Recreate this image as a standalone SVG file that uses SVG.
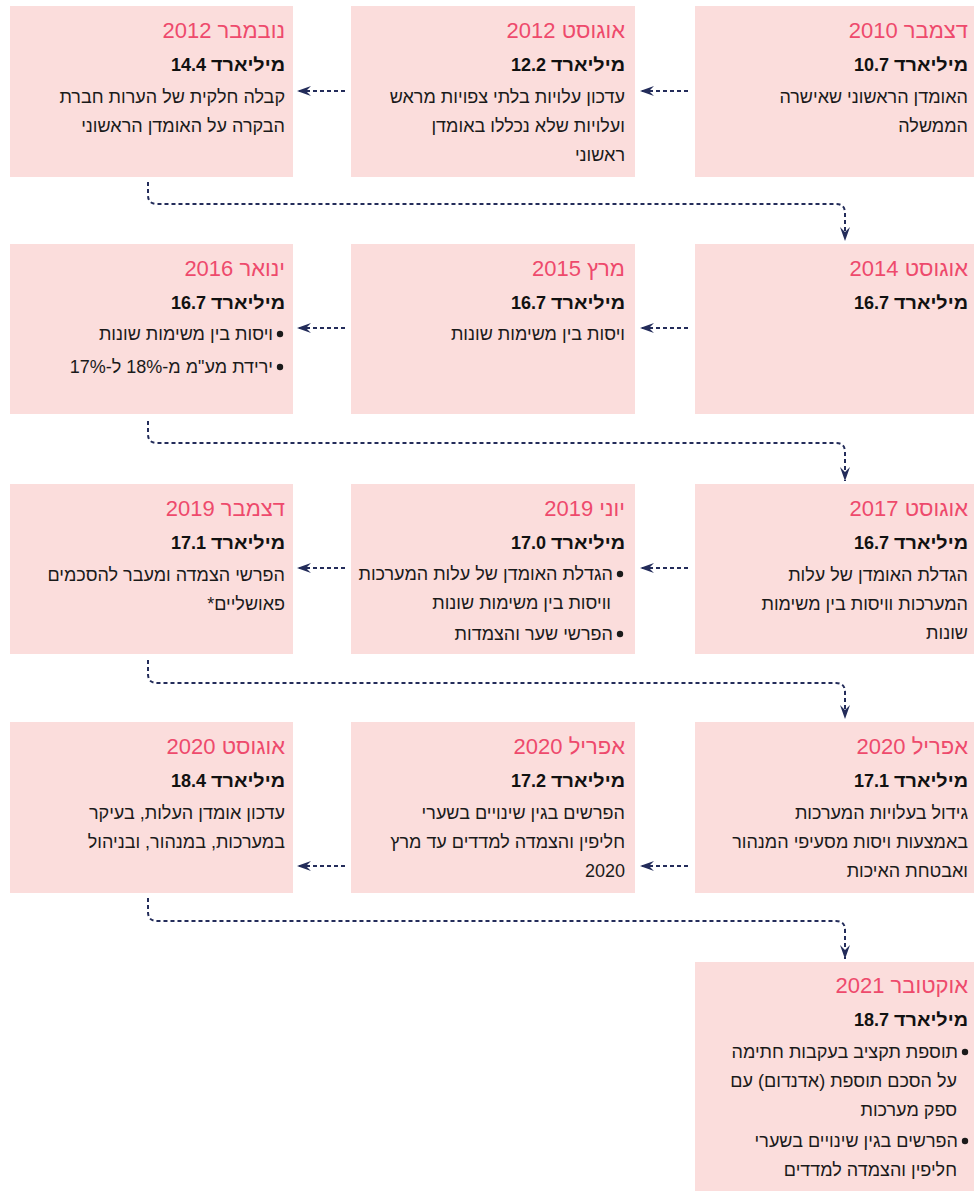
<svg xmlns="http://www.w3.org/2000/svg" width="974" height="1191" viewBox="0 0 974 1191">
<style>
.bg{fill:#ffffff}
.box{fill:#fbdddc}
.t{font-family:"Liberation Sans","DejaVu Sans",sans-serif;font-size:22px;fill:#ee4a6c;direction:rtl;text-anchor:start}
.b{font-family:"Liberation Sans","DejaVu Sans",sans-serif;font-size:18px;font-weight:bold;fill:#111111;text-anchor:end}
.p{font-family:"Liberation Sans","DejaVu Sans",sans-serif;font-size:18px;fill:#1a1a1a;direction:rtl;text-anchor:start}
.dot{fill:#1a1a1a}
.c{fill:none;stroke:#232c5a;stroke-width:2;stroke-dasharray:4 3;marker-end:url(#ah)}
</style>
<defs>
<marker id="ah" viewBox="0 0 14 10" refX="14" refY="5" markerWidth="14" markerHeight="10" markerUnits="userSpaceOnUse" orient="auto">
<path d="M0,0 L14,5 L0,10 L5,5 Z" fill="#232c5a"/>
</marker>
</defs>
<rect class="bg" x="0" y="0" width="974" height="1191"/>

<g id="connectors">
<path class="c" d="M688,91 H640"/>
<path class="c" d="M345,91 H297"/>
<path class="c" d="M148,182 V195 Q148,204 157,204 H836 Q845,204 845,213 V241"/>
<path class="c" d="M688,328 H640"/>
<path class="c" d="M345,328 H297"/>
<path class="c" d="M148,421 V434 Q148,443 157,443 H836 Q845,443 845,452 V481"/>
<path class="c" d="M688,568 H640"/>
<path class="c" d="M345,568 H297"/>
<path class="c" d="M148,660 V674 Q148,683 157,683 H836 Q845,683 845,692 V719"/>
<path class="c" d="M688,866 H640"/>
<path class="c" d="M345,866 H297"/>
<path class="c" d="M148,898 V912 Q148,921 157,921 H836 Q845,921 845,930 V959"/>
</g>

<g id="dec2010">
<rect class="box" x="695" y="6" width="279" height="171"/>
<text class="t" x="968" y="38">דצמבר 2010</text>
<text class="b" x="968" y="71" textLength="74" lengthAdjust="spacingAndGlyphs">מיליארד</text>
<text class="b" x="889" y="71">10.7</text>
<text class="p" x="968" y="103">האומדן הראשוני שאישרה</text>
<text class="p" x="968" y="132">הממשלה</text>
</g>

<g id="aug2012">
<rect class="box" x="351" y="6" width="284" height="171"/>
<text class="t" x="625" y="38">אוגוסט 2012</text>
<text class="b" x="625" y="71" textLength="74" lengthAdjust="spacingAndGlyphs">מיליארד</text>
<text class="b" x="546" y="71">12.2</text>
<text class="p" x="625" y="103">עדכון עלויות בלתי צפויות מראש</text>
<text class="p" x="625" y="132">ועלויות שלא נכללו באומדן</text>
<text class="p" x="625" y="161">ראשוני</text>
</g>

<g id="nov2012">
<rect class="box" x="10" y="6" width="283" height="171"/>
<text class="t" x="285" y="38">נובמבר 2012</text>
<text class="b" x="285" y="71" textLength="74" lengthAdjust="spacingAndGlyphs">מיליארד</text>
<text class="b" x="206" y="71">14.4</text>
<text class="p" x="285" y="103">קבלה חלקית של הערות חברת</text>
<text class="p" x="285" y="132">הבקרה על האומדן הראשוני</text>
</g>

<g id="aug2014">
<rect class="box" x="695" y="244" width="279" height="170"/>
<text class="t" x="968" y="276">אוגוסט 2014</text>
<text class="b" x="968" y="309" textLength="74" lengthAdjust="spacingAndGlyphs">מיליארד</text>
<text class="b" x="889" y="309">16.7</text>
</g>

<g id="mar2015">
<rect class="box" x="351" y="244" width="284" height="170"/>
<text class="t" x="625" y="276">מרץ 2015</text>
<text class="b" x="625" y="309" textLength="74" lengthAdjust="spacingAndGlyphs">מיליארד</text>
<text class="b" x="546" y="309">16.7</text>
<text class="p" x="625" y="340">ויסות בין משימות שונות</text>
</g>

<g id="jan2016">
<rect class="box" x="10" y="244" width="283" height="170"/>
<text class="t" x="285" y="276">ינואר 2016</text>
<text class="b" x="285" y="309" textLength="74" lengthAdjust="spacingAndGlyphs">מיליארד</text>
<text class="b" x="206" y="309">16.7</text>
<circle class="dot" cx="280" cy="334" r="3.2"/>
<text class="p" x="273" y="340">ויסות בין משימות שונות</text>
<circle class="dot" cx="280" cy="367" r="3.2"/>
<text class="p" x="273" y="373">ירידת מע"מ מ-18% ל-17%</text>
</g>

<g id="aug2017">
<rect class="box" x="695" y="484" width="279" height="170"/>
<text class="t" x="968" y="516">אוגוסט 2017</text>
<text class="b" x="968" y="549" textLength="74" lengthAdjust="spacingAndGlyphs">מיליארד</text>
<text class="b" x="889" y="549">16.7</text>
<text class="p" x="968" y="581">הגדלת האומדן של עלות</text>
<text class="p" x="968" y="610">המערכות וויסות בין משימות</text>
<text class="p" x="968" y="639">שונות</text>
</g>

<g id="jun2019">
<rect class="box" x="351" y="484" width="284" height="170"/>
<text class="t" x="625" y="516">יוני 2019</text>
<text class="b" x="625" y="549" textLength="74" lengthAdjust="spacingAndGlyphs">מיליארד</text>
<text class="b" x="546" y="549">17.0</text>
<circle class="dot" cx="620" cy="574" r="3.2"/>
<text class="p" x="613" y="580">הגדלת האומדן של עלות המערכות</text>
<text class="p" x="611" y="609">וויסות בין משימות שונות</text>
<circle class="dot" cx="620" cy="634" r="3.2"/>
<text class="p" x="613" y="640">הפרשי שער והצמדות</text>
</g>

<g id="dec2019">
<rect class="box" x="10" y="484" width="283" height="170"/>
<text class="t" x="285" y="516">דצמבר 2019</text>
<text class="b" x="285" y="549" textLength="74" lengthAdjust="spacingAndGlyphs">מיליארד</text>
<text class="b" x="206" y="549">17.1</text>
<text class="p" x="285" y="581">הפרשי הצמדה ומעבר להסכמים</text>
<text class="p" x="285" y="610">פאושליים*</text>
</g>

<g id="apr2020a">
<rect class="box" x="695" y="722" width="279" height="171"/>
<text class="t" x="968" y="754">אפריל 2020</text>
<text class="b" x="968" y="787" textLength="74" lengthAdjust="spacingAndGlyphs">מיליארד</text>
<text class="b" x="889" y="787">17.1</text>
<text class="p" x="968" y="819">גידול בעלויות המערכות</text>
<text class="p" x="968" y="848">באמצעות ויסות מסעיפי המנהור</text>
<text class="p" x="968" y="877">ואבטחת האיכות</text>
</g>

<g id="apr2020b">
<rect class="box" x="351" y="722" width="284" height="171"/>
<text class="t" x="625" y="754">אפריל 2020</text>
<text class="b" x="625" y="787" textLength="74" lengthAdjust="spacingAndGlyphs">מיליארד</text>
<text class="b" x="546" y="787">17.2</text>
<text class="p" x="625" y="819">הפרשים בגין שינויים בשערי</text>
<text class="p" x="625" y="848">חליפין והצמדה למדדים עד מרץ</text>
<text class="p" x="625" y="877">2020</text>
</g>

<g id="aug2020">
<rect class="box" x="10" y="722" width="283" height="171"/>
<text class="t" x="285" y="754">אוגוסט 2020</text>
<text class="b" x="285" y="787" textLength="74" lengthAdjust="spacingAndGlyphs">מיליארד</text>
<text class="b" x="206" y="787">18.4</text>
<text class="p" x="285" y="819">עדכון אומדן העלות, בעיקר</text>
<text class="p" x="285" y="848">במערכות, במנהור, ובניהול</text>
</g>

<g id="oct2021">
<rect class="box" x="695" y="962" width="279" height="229"/>
<text class="t" x="968" y="993">אוקטובר 2021</text>
<text class="b" x="968" y="1026" textLength="74" lengthAdjust="spacingAndGlyphs">מיליארד</text>
<text class="b" x="889" y="1026">18.7</text>
<circle class="dot" cx="965" cy="1052" r="3.2"/>
<text class="p" x="958" y="1058">תוספת תקציב בעקבות חתימה</text>
<text class="p" x="957" y="1087">על הסכם תוספת (אדנדום) עם</text>
<text class="p" x="957" y="1116">ספק מערכות</text>
<circle class="dot" cx="965" cy="1141" r="3.2"/>
<text class="p" x="958" y="1147">הפרשים בגין שינויים בשערי</text>
<text class="p" x="957" y="1176">חליפין והצמדה למדדים</text>
</g>
</svg>
